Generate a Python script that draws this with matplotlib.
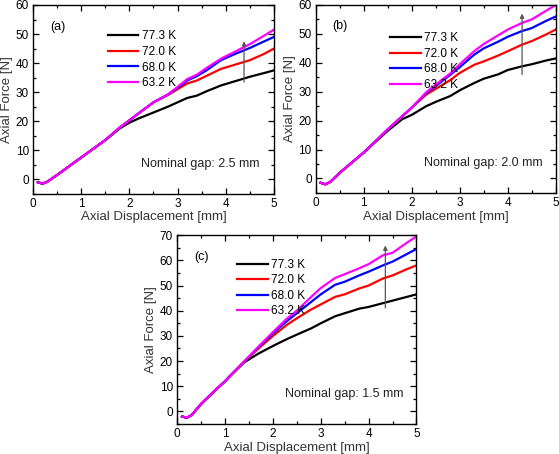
import numpy as np
import matplotlib
matplotlib.use("Agg")
import matplotlib.pyplot as plt
from matplotlib.ticker import MultipleLocator

plt.rcParams['font.family'] = ['Liberation Sans', 'DejaVu Sans']

labels = ["77.3 K", "72.0 K", "68.0 K", "63.2 K"]
colors = ["black", "#ff0000", "#0000ff", "#ff00ff"]

# panel (a), nominal gap 2.5 mm
xa = [0.1, 0.2, 0.3, 0.5, 1.0, 1.5, 1.8, 2.0, 2.2, 2.5, 2.8, 3.0, 3.2, 3.4, 3.6, 3.9, 4.2, 4.5, 4.8, 5.0]
ya = [
    [-1.0, -1.5, -0.8, 1.5, 7.5, 13.5, 17.5, 19.5, 21.0, 23.0, 25.0, 26.5, 28.0, 28.8, 30.3, 32.3, 33.8, 35.3, 36.6, 37.5],
    [-1.0, -1.5, -0.8, 1.5, 7.5, 13.5, 17.8, 20.3, 22.8, 26.5, 29.0, 31.0, 33.0, 34.0, 35.6, 38.0, 39.5, 41.0, 43.2, 45.0],
    [-1.0, -1.5, -0.8, 1.5, 7.5, 13.5, 17.8, 20.3, 22.8, 26.5, 29.2, 31.5, 34.0, 35.5, 37.5, 41.0, 43.2, 45.2, 47.5, 49.0],
    [-1.0, -1.5, -0.8, 1.5, 7.5, 13.5, 17.8, 20.3, 22.8, 26.5, 29.2, 31.8, 34.5, 36.0, 38.3, 41.5, 44.0, 46.5, 49.5, 51.5],
]

# panel (b), nominal gap 2.0 mm
xb = [0.1, 0.2, 0.3, 0.5, 1.0, 1.5, 1.8, 2.0, 2.3, 2.5, 2.8, 3.0, 3.3, 3.5, 3.8, 4.0, 4.3, 4.5, 4.8, 5.0]
yb = [
    [-1.5, -2.0, -1.2, 2.0, 9.0, 16.5, 20.5, 22.0, 25.0, 26.5, 28.5, 30.5, 33.0, 34.5, 36.0, 37.5, 38.8, 39.5, 40.8, 41.5],
    [-1.5, -2.0, -1.2, 2.0, 9.0, 17.0, 21.5, 24.5, 29.0, 31.0, 34.0, 36.5, 39.3, 40.5, 42.5, 44.0, 46.3, 47.5, 49.8, 51.5],
    [-1.5, -2.0, -1.2, 2.0, 9.0, 17.0, 21.5, 24.5, 29.5, 32.0, 35.8, 38.5, 42.8, 45.0, 47.3, 49.0, 51.0, 52.0, 54.5, 56.0],
    [-1.5, -2.0, -1.2, 2.0, 9.0, 17.0, 21.5, 24.5, 29.8, 32.5, 36.3, 39.5, 44.0, 46.5, 49.5, 51.5, 53.8, 55.0, 58.0, 60.0],
]

# panel (c), nominal gap 1.5 mm
xc = [0.1, 0.2, 0.3, 0.5, 0.8, 1.0, 1.1, 1.4, 1.7, 2.0, 2.3, 2.5, 2.8, 3.0, 3.3, 3.5, 3.8, 4.0, 4.3, 4.5, 4.8, 5.0]
yc = [
    [-2.0, -2.5, -1.5, 3.0, 8.5, 12.0, 14.0, 19.5, 23.0, 26.0, 28.8, 30.5, 33.0, 35.0, 37.8, 39.0, 40.8, 41.5, 43.0, 44.0, 45.5, 46.5],
    [-2.0, -2.5, -1.5, 3.0, 8.5, 12.0, 14.0, 19.8, 25.0, 30.0, 34.5, 37.0, 40.5, 42.5, 45.5, 46.5, 48.8, 50.0, 52.8, 54.0, 56.5, 58.0],
    [-2.0, -2.5, -1.5, 3.0, 8.5, 12.0, 14.0, 19.8, 25.5, 31.0, 36.0, 39.0, 43.5, 46.5, 50.3, 51.5, 54.0, 55.5, 58.0, 59.5, 62.5, 64.5],
    [-2.0, -2.5, -1.5, 3.0, 8.5, 12.0, 14.0, 19.8, 25.8, 31.5, 37.0, 40.0, 45.5, 49.0, 53.0, 54.5, 56.8, 58.5, 62.0, 63.0, 67.0, 69.5],
]

panels = [
    dict(rect=[0.059, 0.573, 0.431, 0.416], x=xa, y=ya, ymax=60, tag="(a)", gap="Nominal gap: 2.5 mm",
         arrow=(4.38, 32.5, 48.5), leg=(0.29, 0.89)),
    dict(rect=[0.565, 0.575, 0.429, 0.414], x=xb, y=yb, ymax=60, tag="(b)", gap="Nominal gap: 2.0 mm",
         arrow=(4.30, 35.0, 58.0), leg=(0.29, 0.88)),
    dict(rect=[0.317, 0.066, 0.428, 0.416], x=xc, y=yc, ymax=70, tag="(c)", gap="Nominal gap: 1.5 mm",
         arrow=(4.35, 40.0, 67.0), leg=(0.23, 0.90)),
]

fig = plt.figure(figsize=(5.59, 4.54), dpi=100)

for p in panels:
    ax = fig.add_axes(p["rect"])
    for ys, lab, c in zip(p["y"], labels, colors):
        ax.plot(p["x"], ys, color=c, lw=1.6, label=lab)
    ax.set_xlim(0, 5)
    ax.set_ylim(-5, p["ymax"])
    ax.xaxis.set_major_locator(MultipleLocator(1))
    ax.xaxis.set_minor_locator(MultipleLocator(0.5))
    ax.yaxis.set_major_locator(MultipleLocator(10))
    ax.yaxis.set_minor_locator(MultipleLocator(5))
    ax.tick_params(which='both', direction='in', top=True, right=True, labelsize=8.5, pad=3)
    ax.tick_params(which='major', length=4, width=0.9)
    ax.tick_params(which='minor', length=2.5, width=0.9)
    for s in ax.spines.values():
        s.set_linewidth(1.0)
    ax.set_xlabel("Axial Displacement [mm]", fontsize=9.5, labelpad=1, color="#333333")
    ax.set_ylabel("Axial Force [N]", fontsize=9.5, labelpad=2, color="#333333")
    ax.text(0.07, 0.87, p["tag"], transform=ax.transAxes, fontsize=9)
    ax.text(0.45, 0.16, p["gap"], transform=ax.transAxes, fontsize=9, color="#222222", va="center")
    ax_x, y0, y1 = p["arrow"]
    ax.annotate("", xy=(ax_x, y1), xytext=(ax_x, y0),
                arrowprops=dict(arrowstyle="-|>", color="#555555", lw=0.9, mutation_scale=6))
    ax.legend(loc="upper left", bbox_to_anchor=p["leg"], frameon=False, fontsize=8.5,
              handlelength=2.6, handletextpad=0.3, labelspacing=0.3, borderaxespad=0)

fig.savefig("out.png", dpi=100)
